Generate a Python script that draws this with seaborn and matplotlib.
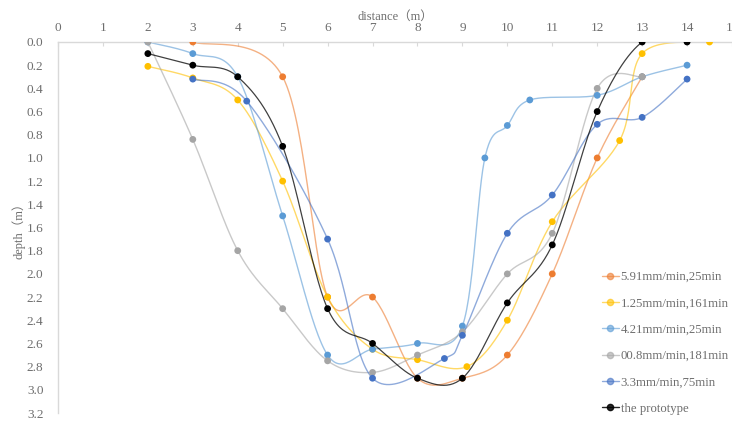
import numpy as np
import pandas as pd
import matplotlib
matplotlib.use("Agg")
import matplotlib.pyplot as plt
from matplotlib.lines import Line2D
import seaborn as sns

# ---- data ----
s1_name = "5.91mm/min,25min"
s1_x = [3, 5, 6, 7, 8, 9, 10, 11, 12, 13]
s1_y = [0.0, 0.3, 2.2, 2.2, 2.9, 2.9, 2.7, 2.0, 1.0, 0.3]

s2_name = "1.25mm/min,161min"
s2_x = [2, 3, 4, 5, 6, 7, 8, 9.1, 10, 11, 12.5, 13, 14.5]
s2_y = [0.21, 0.31, 0.5, 1.2, 2.2, 2.65, 2.74, 2.8, 2.4, 1.55, 0.85, 0.1, 0.0]

s3_name = "4.21mm/min,25min"
s3_x = [2, 3, 4, 5, 6, 7, 8, 9, 9.5, 10, 10.5, 12, 13, 14]
s3_y = [0.0, 0.1, 0.3, 1.5, 2.7, 2.65, 2.6, 2.45, 1.0, 0.72, 0.5, 0.46, 0.3, 0.2]

s4_name = "00.8mm/min,181min"
s4_x = [2, 3, 4, 5, 6, 7, 8, 9, 10, 11, 12, 13]
s4_y = [0.0, 0.84, 1.8, 2.3, 2.75, 2.85, 2.7, 2.5, 2.0, 1.65, 0.4, 0.3]

s5_name = "3.3mm/min,75min"
s5_x = [3, 4.2, 6, 7, 8.6, 9, 10, 11, 12, 13, 14]
s5_y = [0.32, 0.51, 1.7, 2.9, 2.73, 2.53, 1.65, 1.32, 0.71, 0.65, 0.32]

s6_name = "the prototype"
s6_x = [2, 3, 4, 5, 6, 7, 8, 9, 10, 11, 12, 13, 14]
s6_y = [0.1, 0.2, 0.3, 0.9, 2.3, 2.6, 2.9, 2.9, 2.25, 1.75, 0.6, 0.0, 0.0]

x_ticks = list(range(0, 16))
y_ticks = [round(0.2 * i, 1) for i in range(17)]

series = [
    (s1_name, s1_x, s1_y, "#ED7D31"),
    (s2_name, s2_x, s2_y, "#FFC000"),
    (s3_name, s3_x, s3_y, "#5B9BD5"),
    (s4_name, s4_x, s4_y, "#A5A5A5"),
    (s5_name, s5_x, s5_y, "#4472C4"),
    (s6_name, s6_x, s6_y, "#000000"),
]


def smooth_path(xs, ys, n=30):
    """Bezier smoothing of a polyline (like spreadsheet 'smoothed line')."""
    P = np.column_stack([xs, ys]).astype(float)
    out = []
    t = np.linspace(0, 1, n)[:, None]
    for i in range(len(P) - 1):
        p0 = P[i - 1] if i > 0 else P[i]
        p1, p2 = P[i], P[i + 1]
        p3 = P[i + 2] if i + 2 < len(P) else P[i + 1]
        c1 = p1 + (p2 - p0) / 6.0
        c2 = p2 - (p3 - p1) / 6.0
        seg = ((1 - t) ** 3) * p1 + 3 * ((1 - t) ** 2) * t * c1 + 3 * (1 - t) * t ** 2 * c2 + t ** 3 * p2
        out.append(seg if i == 0 else seg[1:])
    seg = np.vstack(out)
    return seg[:, 0], seg[:, 1]


sns.set_theme(style="white")
plt.rcParams["font.family"] = ["Liberation Serif", "Noto Sans CJK SC"]

fig = plt.figure(figsize=(7.32, 4.23), dpi=100)
ax = fig.add_axes([58 / 732, 1 - 413 / 423, 1 - 58 / 732, (413 - 42) / 423])

text_color = "#6E6E6E"
handles = []
for name, xs, ys, col in series:
    sx, sy = smooth_path(xs, ys)
    lw = 0.9 if col == "#000000" else 1.0
    alpha = 0.75 if col == "#000000" else 0.6
    sns.lineplot(x=sx, y=sy, sort=False, estimator=None, color=col,
                 linewidth=lw, alpha=alpha, ax=ax, legend=False)
for name, xs, ys, col in series:
    sns.scatterplot(x=xs, y=ys, color=col, s=24, edgecolor="none",
                    ax=ax, legend=False, zorder=5)
    handles.append(Line2D([0], [0], color=col, alpha=0.6 if col != "#000000" else 0.85,
                          lw=1.0, marker="o", markersize=4.5,
                          markerfacecolor=col, markeredgecolor=col, label=name))

ax.set_xlim(0, 15)
ax.set_ylim(3.2, 0)
ax.set_xticks(x_ticks)
ax.set_yticks(y_ticks)
ax.set_yticklabels([f"{v:.1f}" for v in y_ticks])
ax.xaxis.tick_top()
ax.xaxis.set_label_position("top")
ax.set_xlabel("distance（m）", fontsize=9, color=text_color, labelpad=2)
ax.set_ylabel("depth（m）", fontsize=9, color=text_color, labelpad=1)
ax.tick_params(axis="x", direction="in", length=3, width=0.8, color="#D9D9D9",
               labelsize=9.5, labelcolor=text_color, pad=5.5)
ax.tick_params(axis="y", direction="in", length=3, width=0.8, color="#D9D9D9",
               labelsize=9.5, labelcolor=text_color, pad=10.5)

for sp in ["bottom", "right"]:
    ax.spines[sp].set_visible(False)
for sp in ["top", "left"]:
    ax.spines[sp].set_visible(True)
    ax.spines[sp].set_color("#D9D9D9")
    ax.spines[sp].set_linewidth(1.0)
ax.grid(False)
ax.set_facecolor("white")

leg = fig.legend(handles=handles, loc="upper left",
                 bbox_to_anchor=(597 / 732, 1 - 266 / 423), frameon=False,
                 fontsize=9.2, handlelength=1.3, handletextpad=0.15,
                 labelspacing=1.12, borderaxespad=0)
for t in leg.get_texts():
    t.set_color(text_color)

fig.savefig("out.png", dpi=100, facecolor="white")
